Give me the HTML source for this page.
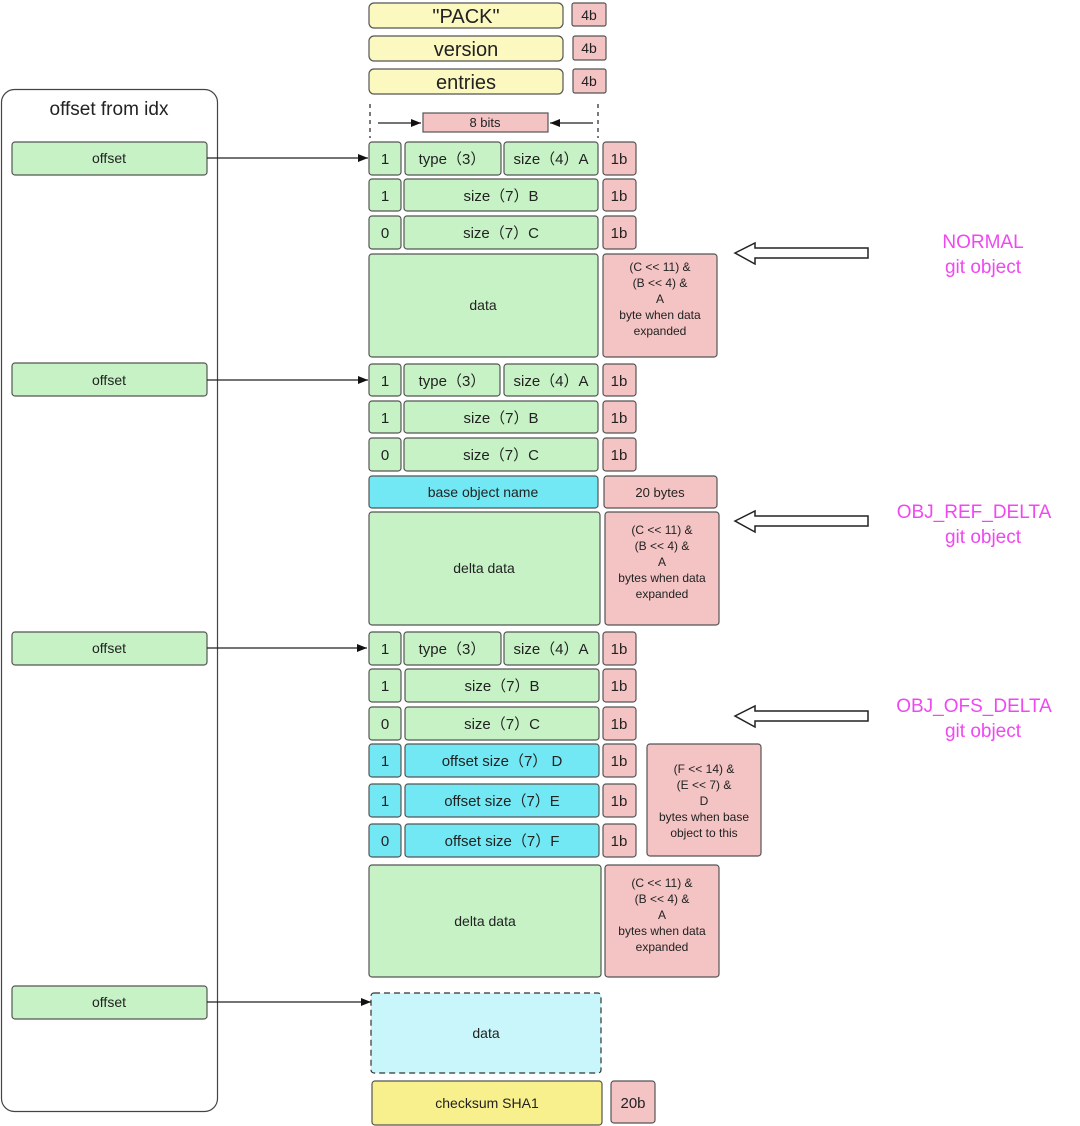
<!DOCTYPE html>
<html><head><meta charset="utf-8"><style>
html,body{margin:0;padding:0;background:#fff;}
svg{display:block;}
text{font-family:"Liberation Sans",sans-serif;fill:#222;}
</style></head><body>
<svg width="1080" height="1126" viewBox="0 0 1080 1126" xmlns="http://www.w3.org/2000/svg">
<defs>
<marker id="ah" markerWidth="10" markerHeight="8" refX="10" refY="4" orient="auto" markerUnits="userSpaceOnUse">
<path d="M0,0 L10,4 L0,8 z" fill="#111"/></marker>
</defs>
<g stroke="#555" stroke-width="1.2">
<rect x="1.5" y="89.5" width="216" height="1022" rx="13" fill="#fff" stroke="#444"/>
<rect x="369" y="3" width="194" height="25" rx="5" fill="#fbf8c0"/>
<rect x="572" y="3" width="34" height="23" rx="2" fill="#f4c4c4"/>
<rect x="369" y="36" width="194" height="25" rx="5" fill="#fbf8c0"/>
<rect x="573" y="36" width="33" height="24" rx="2" fill="#f4c4c4"/>
<rect x="369" y="69" width="194" height="25" rx="5" fill="#fbf8c0"/>
<rect x="573" y="69" width="33" height="24" rx="2" fill="#f4c4c4"/>
<rect x="423" y="113" width="125" height="19" fill="#f4c4c4"/>
<rect x="12" y="142" width="195" height="33" rx="3" fill="#c6f2c6"/>
<rect x="12" y="363" width="195" height="33" rx="3" fill="#c6f2c6"/>
<rect x="12" y="632" width="195" height="33" rx="3" fill="#c6f2c6"/>
<rect x="12" y="986" width="195" height="33" rx="3" fill="#c6f2c6"/>
<rect x="369" y="142" width="32" height="33" rx="3" fill="#c6f2c6"/>
<rect x="405" y="142" width="96" height="33" rx="3" fill="#c6f2c6"/>
<rect x="504" y="142" width="94" height="33" rx="3" fill="#c6f2c6"/>
<rect x="603" y="142" width="33" height="33" rx="3" fill="#f4c4c4"/>
<rect x="369" y="179" width="32" height="32" rx="3" fill="#c6f2c6"/>
<rect x="404" y="179" width="194" height="32" rx="3" fill="#c6f2c6"/>
<rect x="603" y="179" width="33" height="32" rx="3" fill="#f4c4c4"/>
<rect x="369" y="216" width="32" height="33" rx="3" fill="#c6f2c6"/>
<rect x="404" y="216" width="194" height="33" rx="3" fill="#c6f2c6"/>
<rect x="603" y="216" width="33" height="33" rx="3" fill="#f4c4c4"/>
<rect x="369" y="254" width="229" height="103" rx="3" fill="#c6f2c6"/>
<rect x="603" y="254" width="114" height="103" rx="3" fill="#f4c4c4"/>
<rect x="369" y="364" width="32" height="32" rx="3" fill="#c6f2c6"/>
<rect x="404" y="364" width="96" height="32" rx="3" fill="#c6f2c6"/>
<rect x="504" y="364" width="94" height="32" rx="3" fill="#c6f2c6"/>
<rect x="603" y="364" width="33" height="32" rx="3" fill="#f4c4c4"/>
<rect x="369" y="401" width="32" height="32" rx="3" fill="#c6f2c6"/>
<rect x="404" y="401" width="194" height="32" rx="3" fill="#c6f2c6"/>
<rect x="603" y="401" width="33" height="32" rx="3" fill="#f4c4c4"/>
<rect x="369" y="438" width="32" height="33" rx="3" fill="#c6f2c6"/>
<rect x="404" y="438" width="194" height="33" rx="3" fill="#c6f2c6"/>
<rect x="603" y="438" width="33" height="33" rx="3" fill="#f4c4c4"/>
<rect x="369" y="476" width="229" height="32" rx="3" fill="#72e8f4"/>
<rect x="604" y="476" width="113" height="32" rx="3" fill="#f4c4c4"/>
<rect x="369" y="512" width="231" height="113" rx="3" fill="#c6f2c6"/>
<rect x="605" y="512" width="114" height="113" rx="3" fill="#f4c4c4"/>
<rect x="369" y="632" width="32" height="33" rx="3" fill="#c6f2c6"/>
<rect x="404" y="632" width="97" height="33" rx="3" fill="#c6f2c6"/>
<rect x="504" y="632" width="95" height="33" rx="3" fill="#c6f2c6"/>
<rect x="603" y="632" width="33" height="33" rx="3" fill="#f4c4c4"/>
<rect x="369" y="669" width="32" height="33" rx="3" fill="#c6f2c6"/>
<rect x="405" y="669" width="194" height="33" rx="3" fill="#c6f2c6"/>
<rect x="603" y="669" width="33" height="33" rx="3" fill="#f4c4c4"/>
<rect x="369" y="707" width="32" height="33" rx="3" fill="#c6f2c6"/>
<rect x="405" y="707" width="194" height="33" rx="3" fill="#c6f2c6"/>
<rect x="603" y="707" width="33" height="33" rx="3" fill="#f4c4c4"/>
<rect x="369" y="744" width="32" height="33" rx="3" fill="#72e8f4"/>
<rect x="405" y="744" width="194" height="33" rx="3" fill="#72e8f4"/>
<rect x="603" y="744" width="33" height="33" rx="3" fill="#f4c4c4"/>
<rect x="369" y="784" width="32" height="33" rx="3" fill="#72e8f4"/>
<rect x="405" y="784" width="194" height="33" rx="3" fill="#72e8f4"/>
<rect x="603" y="784" width="33" height="33" rx="3" fill="#f4c4c4"/>
<rect x="369" y="824" width="32" height="33" rx="3" fill="#72e8f4"/>
<rect x="405" y="824" width="194" height="33" rx="3" fill="#72e8f4"/>
<rect x="603" y="824" width="33" height="33" rx="3" fill="#f4c4c4"/>
<rect x="647" y="744" width="114" height="112" rx="3" fill="#f4c4c4"/>
<rect x="369" y="865" width="232" height="112" rx="3" fill="#c6f2c6"/>
<rect x="605" y="865" width="114" height="112" rx="3" fill="#f4c4c4"/>
<rect x="371" y="993" width="230" height="80" rx="3" fill="#c8f6fa" stroke="#333" stroke-dasharray="6,4"/>
<rect x="372" y="1081" width="230" height="44" rx="3" fill="#f8f08c"/>
<rect x="611" y="1081" width="44" height="42" rx="3" fill="#f4c4c4"/>
</g>
<g stroke="#222" stroke-width="1.2">
<line x1="370" y1="104" x2="370" y2="138" stroke-dasharray="4,4"/>
<line x1="598" y1="104" x2="598" y2="138" stroke-dasharray="4,4"/>
<line x1="378" y1="123" x2="421" y2="123" marker-end="url(#ah)"/>
<line x1="593" y1="123" x2="550" y2="123" marker-end="url(#ah)"/>
<line x1="207" y1="158" x2="368" y2="158" marker-end="url(#ah)"/>
<line x1="207" y1="380" x2="368" y2="380" marker-end="url(#ah)"/>
<line x1="207" y1="648" x2="367" y2="648" marker-end="url(#ah)"/>
<line x1="207" y1="1002" x2="371" y2="1002" marker-end="url(#ah)"/>
</g>
<g fill="#fff" stroke="#222" stroke-width="1.5">
<polygon points="735,253 755,243 755,248 868,248 868,258 755,258 755,264"/>
<polygon points="735,521 755,511 755,516 868,516 868,526 755,526 755,532"/>
<polygon points="735,716 755,706 755,711 868,711 868,721 755,721 755,727"/>
</g>
<g text-anchor="middle">
<text x="466" y="23" font-size="20">"PACK"</text>
<text x="589" y="20" font-size="14">4b</text>
<text x="466" y="56" font-size="20">version</text>
<text x="589" y="53" font-size="14">4b</text>
<text x="466" y="89" font-size="20">entries</text>
<text x="589" y="86" font-size="14">4b</text>
<text x="485" y="127" font-size="13">8 bits</text>
<text x="109" y="115" font-size="19">offset from idx</text>
<text x="109" y="163" font-size="14">offset</text>
<text x="109" y="385" font-size="14">offset</text>
<text x="109" y="653" font-size="14">offset</text>
<text x="109" y="1007" font-size="14">offset</text>
<g font-size="15">
<text x="385" y="164">1</text><text x="452" y="164">type（3）</text><text x="551" y="164">size（4）A</text><text x="619" y="164">1b</text>
<text x="385" y="201">1</text><text x="501" y="201">size（7）B</text><text x="619" y="201">1b</text>
<text x="385" y="238">0</text><text x="501" y="238">size（7）C</text><text x="619" y="238">1b</text>
<text x="385" y="386">1</text><text x="452" y="386">type（3）</text><text x="551" y="386">size（4）A</text><text x="619" y="386">1b</text>
<text x="385" y="423">1</text><text x="501" y="423">size（7）B</text><text x="619" y="423">1b</text>
<text x="385" y="460">0</text><text x="501" y="460">size（7）C</text><text x="619" y="460">1b</text>
<text x="385" y="654">1</text><text x="452" y="654">type（3）</text><text x="551" y="654">size（4）A</text><text x="619" y="654">1b</text>
<text x="385" y="691">1</text><text x="502" y="691">size（7）B</text><text x="619" y="691">1b</text>
<text x="385" y="729">0</text><text x="502" y="729">size（7）C</text><text x="619" y="729">1b</text>
<text x="385" y="766">1</text><text x="502" y="766">offset size（7） D</text><text x="619" y="766">1b</text>
<text x="385" y="806">1</text><text x="502" y="806">offset size（7）E</text><text x="619" y="806">1b</text>
<text x="385" y="846">0</text><text x="502" y="846">offset size（7）F</text><text x="619" y="846">1b</text>
<text x="633" y="1108">20b</text>
</g>
<g font-size="14">
<text x="483" y="310">data</text>
<text x="483" y="497">base object name</text>
<text x="660" y="497" font-size="13">20 bytes</text>
<text x="484" y="573">delta data</text>
<text x="485" y="926">delta data</text>
<text x="486" y="1038">data</text>
<text x="487" y="1108">checksum SHA1</text>
</g>
<g font-size="12">
<text x="660" y="271">(C &lt;&lt; 11) &amp;</text><text x="660" y="287">(B &lt;&lt; 4) &amp;</text><text x="660" y="303">A</text><text x="660" y="319">byte when data</text><text x="660" y="335">expanded</text>
<text x="662" y="534">(C &lt;&lt; 11) &amp;</text><text x="662" y="550">(B  &lt;&lt; 4) &amp;</text><text x="662" y="566">A</text><text x="662" y="582">bytes when data</text><text x="662" y="598">expanded</text>
<text x="704" y="773">(F &lt;&lt; 14) &amp;</text><text x="704" y="789">(E  &lt;&lt; 7) &amp;</text><text x="704" y="805">D</text><text x="704" y="821">bytes when base</text><text x="704" y="837">object to this</text>
<text x="662" y="887">(C &lt;&lt; 11) &amp;</text><text x="662" y="903">(B  &lt;&lt; 4) &amp;</text><text x="662" y="919">A</text><text x="662" y="935">bytes when data</text><text x="662" y="951">expanded</text>
</g>
<g font-size="19">
<text x="983" y="248" style="fill:#f048f0">NORMAL</text><text x="983" y="273" style="fill:#f048f0">git object</text>
<text x="974" y="518" style="fill:#f048f0">OBJ_REF_DELTA</text><text x="983" y="543" style="fill:#f048f0">git object</text>
<text x="974" y="712" style="fill:#f048f0">OBJ_OFS_DELTA</text><text x="983" y="737" style="fill:#f048f0">git object</text>
</g>
</g>
</svg>
</body></html>
